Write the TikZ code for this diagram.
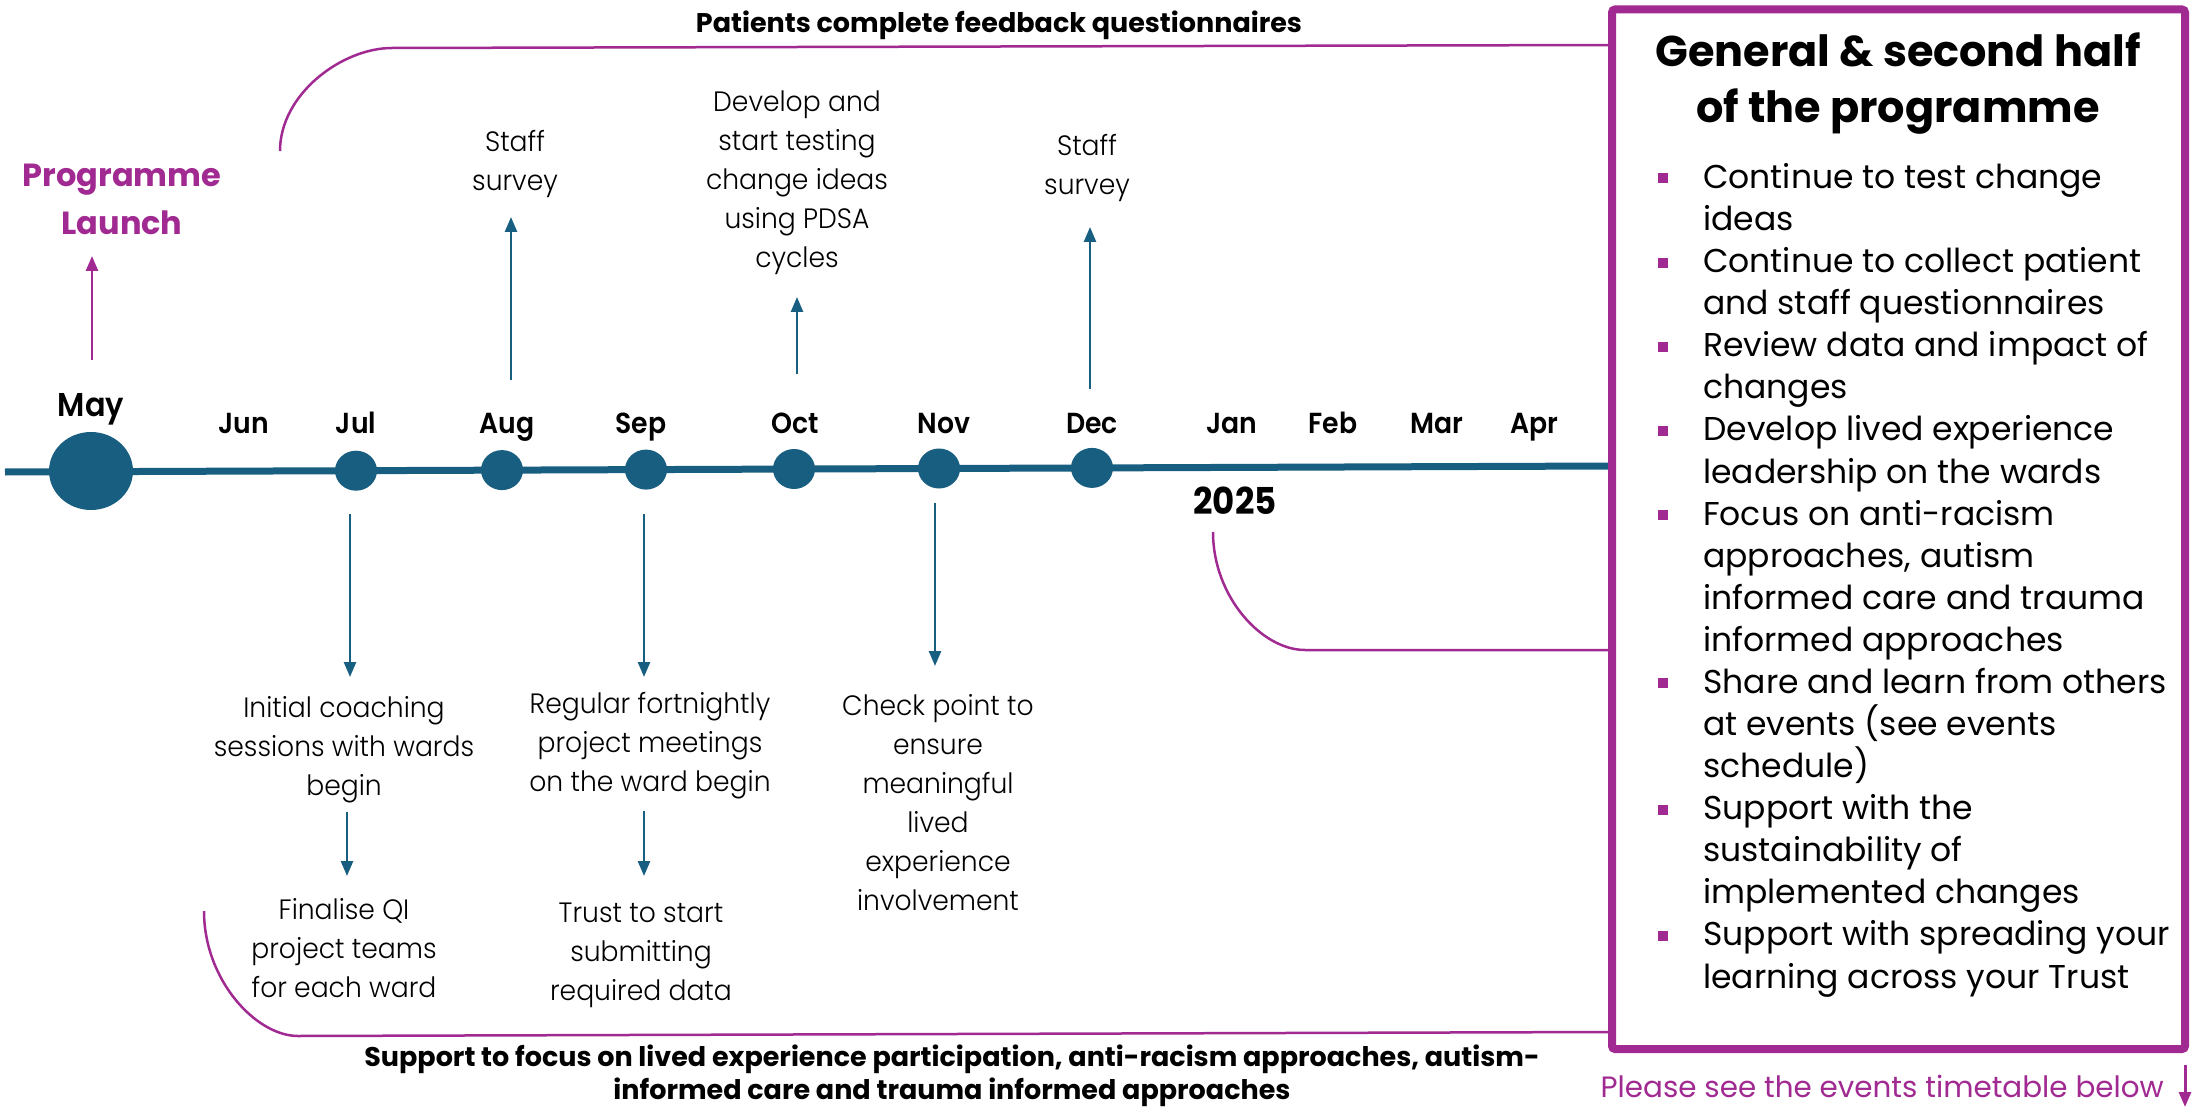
\documentclass[tikz,border=0pt]{standalone}
\usepackage{fontspec}
\setmainfont{Poppins}
\newfontfamily\lblfont[FakeStretch=0.95]{Poppins Light}
\newfontfamily\monfont[FakeStretch=0.92]{Poppins}
\newfontfamily\semifont[FakeStretch=0.92]{Poppins SemiBold}
\usetikzlibrary{arrows.meta,shapes.geometric}
\definecolor{tlblue}{RGB}{23,94,128}
\definecolor{tlpurple}{RGB}{160,42,145}
\tikzset{
  bluearrow/.style={draw=tlblue,line width=2.5pt,-{Triangle[length=15pt,width=12pt]}},
  purplearrow/.style={draw=tlpurple,line width=2.5pt,-{Triangle[length=15pt,width=12pt]}},
  bracket/.style={draw=tlpurple,line width=2.5pt},
  dot/.style={ellipse,fill=tlblue,inner sep=0pt,minimum width=42pt,minimum height=40pt},
  month/.style={font=\semifont\fontsize{29}{34}\selectfont,text=black,inner sep=0pt,anchor=base},
  lbl/.style={font=\lblfont\fontsize{28}{39}\selectfont,align=center,inner sep=0pt},
  bul/.style={rectangle,fill=tlpurple,inner sep=0pt,minimum size=10pt},
  btxt/.style={font=\fontsize{33}{42}\selectfont,anchor=base west,inner sep=0pt},
  boldnote/.style={font=\bfseries\fontsize{27}{33}\selectfont,align=center,inner sep=0pt}
}
\begin{document}
\begin{tikzpicture}[x=1pt,y=-1pt]
\useasboundingbox (0,0) rectangle (2196,1107);
% timeline
\coordinate (tlstart) at (5,472);
\coordinate (tlend) at (1612,466);
\draw[tlblue,line width=7pt] (tlstart) -- (tlend);
\node[dot,minimum width=84pt,minimum height=78pt] (may) at (91,471) {};
\node[dot] (jul) at (356,470.7) {};
\node[dot] (aug) at (502,470.1) {};
\node[dot] (sep) at (646,469.6) {};
\node[dot] (oct) at (794,469) {};
\node[dot] (nov) at (939,468.5) {};
\node[dot] (dec) at (1092,467.9) {};
% months
\node[month,font=\semifont\fontsize{33}{38}\selectfont] (lmay) at (91,416) {May};
\node[month] (ljun) at (244,433) {Jun};
\node[month] (ljul) at (356,433) {Jul};
\node[month] (laug) at (507,433) {Aug};
\node[month] (lsep) at (641,433) {Sep};
\node[month] (loct) at (795,433) {Oct};
\node[month] (lnov) at (944,433) {Nov};
\node[month] (ldec) at (1092,433) {Dec};
\node[month] (ljan) at (1232,433) {Jan};
\node[month] (lfeb) at (1333,433) {Feb};
\node[month] (lmar) at (1437,433) {Mar};
\node[month] (lapr) at (1534,433) {Apr};
\node[font=\monfont\bfseries\fontsize{37}{40}\selectfont,inner sep=0pt] (y2025) at (1235,501) {2025};
% programme launch
\node[font=\bfseries\fontsize{32}{48}\selectfont,text=tlpurple,align=center,inner sep=0pt] (launch) at (122,199) {Programme\\Launch};
\coordinate (mayA) at (92,360);
\coordinate (mayB) at (92,256);
\draw[purplearrow] (mayA) -- (mayB);
% upper labels
\node[lbl] (staff1) at (515,164) {Staff\\survey};
\node[lbl] (develop) at (797,182.5) {Develop and\\start testing\\change ideas\\using PDSA\\cycles};
\node[lbl] (staff2) at (1087,168.5) {Staff\\survey};
\coordinate (augA) at (511,380); \coordinate (augB) at (511,217);
\coordinate (octA) at (797,374); \coordinate (octB) at (797,297);
\coordinate (decA) at (1090,389); \coordinate (decB) at (1090,227);
\draw[bluearrow] (augA) -- (augB);
\draw[bluearrow] (octA) -- (octB);
\draw[bluearrow] (decA) -- (decB);
% lower labels
\node[lbl] (initial) at (344,749.5) {Initial coaching\\sessions with wards\\begin};
\node[lbl] (finalise) at (344,948) {Finalise QI\\project teams\\for each ward};
\node[lbl] (regular) at (650,746) {Regular fortnightly\\project meetings\\on the ward begin};
\node[lbl] (trust) at (641,955) {Trust to start\\submitting\\required data};
\node[lbl] (check) at (938,803) {Check point to\\ensure\\meaningful\\lived\\experience\\involvement};
\coordinate (julA) at (350,514); \coordinate (julB) at (350,677);
\coordinate (julC) at (347,812); \coordinate (julD) at (347,876);
\coordinate (sepA) at (644,514); \coordinate (sepB) at (644,677);
\coordinate (sepC) at (644,811); \coordinate (sepD) at (644,876);
\coordinate (novA) at (935,503); \coordinate (novB) at (935,666);
\draw[bluearrow] (julA) -- (julB);
\draw[bluearrow] (julC) -- (julD);
\draw[bluearrow] (sepA) -- (sepB);
\draw[bluearrow] (sepC) -- (sepD);
\draw[bluearrow] (novA) -- (novB);
% right box
\draw[tlpurple,line width=8pt,rounded corners=3pt] (1612,9.5) rectangle (2185,1049);
\coordinate (boxtop) at (1612,45);
\coordinate (boxmid) at (1612,650);
\coordinate (boxbot) at (1612,1032);
\node[font=\bfseries\fontsize{43}{56}\selectfont,align=center,inner sep=0pt] (title) at (1898,84) {General \& second half\\of the programme};
\foreach \t [count=\i] in {{Continue to test change},{ideas},{Continue to collect patient},{and staff questionnaires},{Review data and impact of},{changes},{Develop lived experience},{leadership on the wards},{Focus on anti-racism},{approaches, autism},{informed care and trauma},{informed approaches},{Share and learn from others},{at events (see events},{schedule)},{Support with the},{sustainability of},{implemented changes},{Support with spreading your},{learning across your Trust}}
  \node[btxt] (bl\i) at (1703,{188.5+(\i-1)*42.08}) {\t};
\foreach \k in {1,3,5,7,9,13,16,19}
  \node[bul] (bu\k) at (1663,{178.5+(\k-1)*42.08}) {};
% brackets
\coordinate (topS) at (280,151);
\coordinate (topE) at (392,48);
\draw[bracket] (topS) .. controls (280,94) and (342,48) .. (topE) -- (boxtop);
\coordinate (midS) at (1213,532);
\coordinate (midE) at (1305,650);
\draw[bracket] (midS) .. controls (1213,597) and (1262,650) .. (midE) -- (boxmid);
\coordinate (botS) at (204,911);
\coordinate (botE) at (298,1036);
\draw[bracket] (botS) .. controls (204,980) and (256,1036) .. (botE) -- (boxbot);
% notes
\node[boldnote] (toptext) at (999,25) {Patients complete feedback questionnaires};
\node[boldnote] (bottext) at (952,1076) {Support to focus on lived experience participation, anti-racism approaches, autism-\\informed care and trauma informed approaches};
\node[font=\fontsize{29.4}{32}\selectfont,text=tlpurple,anchor=east,inner sep=0pt] (please) at (2164,1086) {Please see the events timetable below};
\coordinate (pA) at (2185,1065);
\coordinate (pB) at (2185,1107);
\draw[purplearrow,line width=3pt] (pA) -- (pB);
\end{tikzpicture}
\end{document}
